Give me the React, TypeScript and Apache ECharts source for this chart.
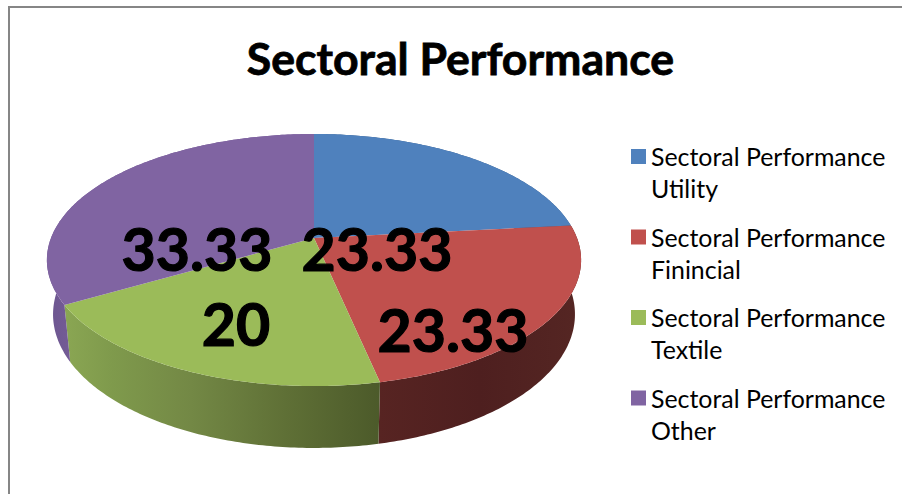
import React, { useEffect, useRef } from "react";
import * as echarts from "echarts";

const titleText = "Sectoral Performance";
const categories = [
  "Sectoral Performance\nUtility",
  "Sectoral Performance\nFinincial",
  "Sectoral Performance\nTextile",
  "Sectoral Performance\nOther",
];
const sliceValues = [23.33, 23.33, 20, 33.33];
const topColors = ["#4f81bd", "#c0504d", "#9bbb59", "#8064a2"];

// Wall shading: stops along the x axis of the page.
const wallShades: [number, string][][] = [
  [[0, "#3a5f8c"], [1, "#3a5f8c"]],
  [[0, "#572422"], [0.5, "#4e1f1f"], [1, "#552623"]],
  [[0, "#8aa653"], [0.15, "#7f9a4c"], [0.4, "#738845"], [0.7, "#5f7036"], [1, "#4c5a2a"]],
  [[0, "#6c5690"], [0.1, "#755c96"], [1, "#755c96"]],
];

// Label anchors on the page, in pixels.
const labelSpots: [number, number][] = [
  [377, 248],
  [453, 329],
  [236, 323],
  [197, 248],
];

const FONT = "Lato";
const WIDTH = 902;
const HEIGHT = 494;
const PIE = { cx: 314, rx: 263, ry: 122.2, k: 0.1746 };
const TOP_FACE = { ay: 238, sx: 1, sy: 1 };
const BOTTOM_FACE = { ay: 291, sx: 0.977, sy: 1.06 };

const total = sliceValues.reduce((a, b) => a + b, 0);
const turn = (v: number) => (v / total) * Math.PI * 2;

function project(t: number, f: { ay: number; sx: number; sy: number }): number[] {
  const u = Math.sin(t);
  const v = -Math.cos(t);
  const d = 1 - PIE.k * v;
  return [PIE.cx + (PIE.rx * f.sx * u) / d, f.ay + (PIE.ry * f.sy * v) / d];
}

function arc(a: number, b: number, f: { ay: number; sx: number; sy: number }): number[][] {
  const n = Math.max(2, Math.ceil((b - a) / (Math.PI / 240)));
  const out: number[][] = [];
  for (let i = 0; i <= n; i++) out.push(project(a + ((b - a) * i) / n, f));
  return out;
}

function sliceRenderer(index: number) {
  return (_params: any, api: any) => {
    const value = api.value(0);
    const before = sliceValues.slice(0, index).reduce((a, b) => a + b, 0);
    const a = turn(before);
    const b = a + turn(value);
    const top = arc(a, b, TOP_FACE);
    const low = arc(a, b, BOTTOM_FACE).reverse();
    const wallPts = top.concat(low);
    const xs = wallPts.map((p) => p[0]);
    const x0 = Math.min(...xs);
    const x1 = Math.max(...xs);
    return {
      type: "group",
      children: [
        {
          type: "polygon",
          z2: 1,
          shape: { points: wallPts },
          style: {
            fill: new echarts.graphic.LinearGradient(
              x0, 0, x1, 0,
              wallShades[index].map(([offset, color]) => ({ offset, color })),
              true
            ),
          },
        },
        {
          type: "polygon",
          z2: 2,
          shape: { points: [[PIE.cx, TOP_FACE.ay], ...top] },
          style: { fill: topColors[index] },
        },
        {
          type: "text",
          z2: 3,
          style: {
            text: String(value),
            x: labelSpots[index][0],
            y: labelSpots[index][1],
            align: "center",
            verticalAlign: "middle",
            fontFamily: FONT,
            fontWeight: "bold",
            fontSize: 59,
            fill: "#000000",
            stroke: "#000000",
            lineWidth: 1.2,
          },
        },
      ],
    };
  };
}

export default function App() {
  const ref = useRef<HTMLDivElement>(null);
  useEffect(() => {
    const chart = echarts.init(ref.current!, null, { renderer: "svg" });
    chart.setOption({
      animation: false,
      backgroundColor: "#ffffff",
      title: {
        text: titleText,
        left: 455.5,
        top: 30,
        textAlign: "center",
        textStyle: {
          fontFamily: FONT,
          fontWeight: "bold",
          fontSize: 44.6,
          color: "#000000",
          textBorderColor: "#000000",
          textBorderWidth: 0.8,
        },
      },
      legend: {
        data: categories,
        orient: "vertical",
        left: 631,
        top: 140,
        padding: 0,
        itemWidth: 15,
        itemHeight: 64,
        itemGap: 16.5,
        selectedMode: false,
        icon: "path://M0 0L0 0M0 9H15V24H0ZM15 64L15 64",
        itemStyle: { borderWidth: 0 },
        textStyle: { fontFamily: FONT, fontSize: 24.9, lineHeight: 32, color: "#000000" },
      },
      graphic: [
        {
          type: "polyline",
          silent: true,
          shape: { points: [[9, HEIGHT], [9, 7], [WIDTH, 7]] },
          style: { stroke: "#868686", lineWidth: 2, fill: "none" },
        },
      ],
      series: categories.map((name, i) => ({
        type: "custom",
        name,
        coordinateSystem: "none",
        itemStyle: { color: topColors[i] },
        renderItem: sliceRenderer(i),
        data: [[sliceValues[i]]],
      })),
    });
    return () => chart.dispose();
  }, []);
  return <div ref={ref} style={{ position: "fixed", left: 0, top: 0, width: WIDTH, height: HEIGHT }} />;
}
